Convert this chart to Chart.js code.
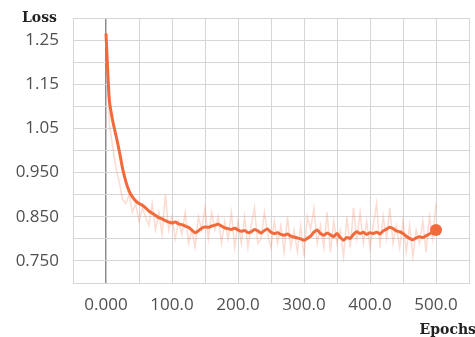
<!DOCTYPE html>
<html>
<head>
<meta charset="utf-8">
<script src="https://cdn.jsdelivr.net/npm/chart.js@4/dist/chart.umd.min.js"></script>
<style>
  html, body { margin: 0; padding: 0; background: #fff; }
  #wrap { position: relative; width: 475px; height: 337px; overflow: hidden; }
  .axis-name { position: absolute; font-family: "DejaVu Serif", serif; font-weight: bold; font-size: 14px; color: #222; line-height: 1; }
  #loss   { left: 22px; top: 10px; }
  #epochs { right: -1px; top: 322px; }
</style>
</head>
<body>
<div id="wrap">
  <canvas id="chart" width="475" height="337"></canvas>
  <div id="loss" class="axis-name">Loss</div>
  <div id="epochs" class="axis-name">Epochs</div>
</div>
<script>
// ── Data ──────────────────────────────────────────────────────────────────
const epochs = [
  0, 5, 10, 15, 20, 25, 30, 35, 40, 45, 50, 55, 60, 65, 70, 75, 80, 85, 90, 95,
  100, 105, 110, 115, 120, 125, 130, 135, 140, 145, 150, 155, 160, 165, 170, 175, 180, 185, 190, 195,
  200, 205, 210, 215, 220, 225, 230, 235, 240, 245, 250, 255, 260, 265, 270, 275, 280, 285, 290, 295,
  300, 305, 310, 315, 320, 325, 330, 335, 340, 345, 350, 355, 360, 365, 370, 375, 380, 385, 390, 395,
  400, 405, 410, 415, 420, 425, 430, 435, 440, 445, 450, 455, 460, 465, 470, 475, 480, 485, 490, 495,
  500
];

const lossSmoothed = [
  1.265, 1.115, 1.068, 1.035, 1.000, 0.960, 0.930, 0.908, 0.895, 0.886, 0.880, 0.876, 0.870, 0.863, 0.858, 0.853, 0.848, 0.845, 0.841, 0.838,
  0.836, 0.838, 0.834, 0.832, 0.829, 0.826, 0.820, 0.814, 0.818, 0.824, 0.827, 0.826, 0.829, 0.831, 0.833, 0.829, 0.825, 0.823, 0.821, 0.824,
  0.820, 0.817, 0.819, 0.814, 0.816, 0.821, 0.818, 0.813, 0.819, 0.822, 0.815, 0.812, 0.814, 0.810, 0.808, 0.811, 0.806, 0.804, 0.802, 0.800,
  0.797, 0.801, 0.806, 0.815, 0.820, 0.812, 0.808, 0.813, 0.809, 0.805, 0.812, 0.803, 0.797, 0.803, 0.801, 0.810, 0.816, 0.812, 0.815, 0.810,
  0.814, 0.812, 0.815, 0.811, 0.818, 0.822, 0.826, 0.823, 0.818, 0.816, 0.812, 0.806, 0.801, 0.798, 0.802, 0.805, 0.803, 0.807, 0.811, 0.816,
  0.820
];

const lossRaw = [
  1.265, 1.060, 1.010, 0.960, 0.930, 0.890, 0.880, 0.900, 0.860, 0.880, 0.840, 0.870, 0.850, 0.830, 0.880, 0.820, 0.860, 0.810, 0.900, 0.820,
  0.850, 0.800, 0.840, 0.810, 0.860, 0.790, 0.820, 0.780, 0.850, 0.820, 0.870, 0.800, 0.860, 0.820, 0.850, 0.790, 0.840, 0.800, 0.860, 0.780,
  0.840, 0.790, 0.850, 0.780, 0.830, 0.870, 0.790, 0.800, 0.860, 0.810, 0.780, 0.840, 0.790, 0.830, 0.770, 0.850, 0.780, 0.820, 0.770, 0.830,
  0.760, 0.850, 0.820, 0.870, 0.790, 0.830, 0.780, 0.860, 0.770, 0.840, 0.790, 0.820, 0.760, 0.850, 0.780, 0.870, 0.800, 0.860, 0.790, 0.840,
  0.780, 0.830, 0.880, 0.780, 0.850, 0.800, 0.870, 0.790, 0.830, 0.780, 0.840, 0.770, 0.830, 0.760, 0.820, 0.790, 0.840, 0.770, 0.850, 0.800,
  0.880
];

const yTickValues = [0.75, 0.85, 0.95, 1.05, 1.15, 1.25];
const yTickLabels = ['0.750', '0.850', '0.950', '1.05', '1.15', '1.25'];
const xTickValues = [0, 100, 200, 300, 400, 500];
const xTickLabels = ['0.000', '100.0', '200.0', '300.0', '400.0', '500.0'];

// ── Style ─────────────────────────────────────────────────────────────────
const ORANGE    = '#f36a3a';
const RAW_COLOR = 'rgba(245, 125, 90, 0.28)';
const GRID      = '#d6d6d6';
const ZERO_LINE = '#8c8c8c';
const TICK_FONT = { family: '"Open Sans", sans-serif', size: 17 };

function labelFor(value, values, labels) {
  const i = values.findIndex(v => Math.abs(v - value) < 1e-6);
  return i >= 0 ? labels[i] : '';
}

const points = ys => epochs.map((x, i) => ({ x, y: ys[i] }));
const lastIdx = epochs.length - 1;

new Chart(document.getElementById('chart').getContext('2d'), {
  type: 'line',
  data: {
    datasets: [
      {
        label: 'Loss (raw)',
        data: points(lossRaw),
        borderColor: RAW_COLOR,
        borderWidth: 1.5,
        pointRadius: 0,
        tension: 0,
        order: 2,
      },
      {
        label: 'Loss',
        data: points(lossSmoothed),
        borderColor: ORANGE,
        backgroundColor: ORANGE,
        borderWidth: 3,
        pointRadius: ctx => ctx.dataIndex === lastIdx ? 6 : 0,
        pointBorderWidth: 0,
        tension: 0.2,
        order: 1,
      },
    ]
  },
  options: {
    responsive: false,
    animation: false,
    layout: { padding: { top: 18, right: 5, left: 0, bottom: 0 } },
    plugins: { legend: { display: false }, tooltip: { enabled: false } },
    scales: {
      x: {
        type: 'linear',
        min: -50, max: 550,
        // fixed box size; drop the edge-label padding so the plot area is exact
        afterFit: s => { s.height = 54; s.paddingLeft = 0; s.paddingRight = 0; },
        afterBuildTicks: s => {
          s.ticks = [];
          for (let v = -50; v <= 550; v += 50) s.ticks.push({ value: v });
        },
        grid: {
          drawTicks: false,
          color: ctx => ctx.tick && ctx.tick.value === 0 ? ZERO_LINE : GRID,
          lineWidth: ctx => ctx.tick && ctx.tick.value === 0 ? 1.5 : 1,
        },
        border: { color: GRID },
        ticks: {
          autoSkip: false,
          maxRotation: 0,
          padding: 12,
          color: '#505050',
          font: TICK_FONT,
          callback: v => labelFor(v, xTickValues, xTickLabels),
        }
      },
      y: {
        min: 0.70, max: 1.30,
        afterFit: s => { s.width = 73; s.paddingTop = 0; s.paddingBottom = 0; },
        afterBuildTicks: s => {
          s.ticks = [];
          for (let k = 0; k <= 12; k++) s.ticks.push({ value: Math.round((0.70 + k * 0.05) * 100) / 100 });
        },
        grid: { drawTicks: false, color: GRID },
        border: { color: GRID },
        ticks: {
          autoSkip: false,
          padding: 14,
          color: '#505050',
          font: TICK_FONT,
          callback: v => labelFor(v, yTickValues, yTickLabels),
        }
      }
    }
  }
});
</script>
</body>
</html>
